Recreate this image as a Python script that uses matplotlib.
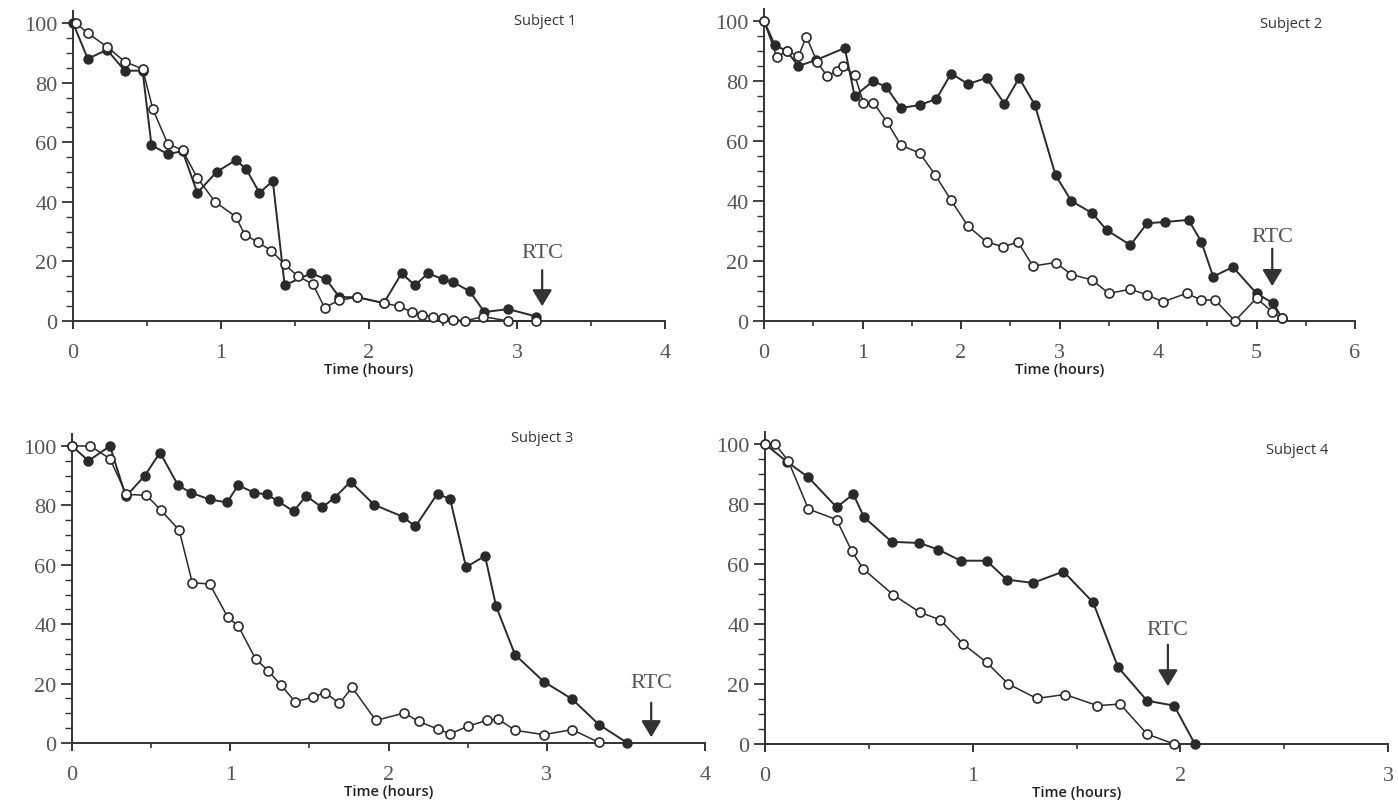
import matplotlib
matplotlib.use("Agg")
import matplotlib.pyplot as plt
from matplotlib.ticker import MultipleLocator

W, H = 1398, 812

# Subject 1
s1_filled_t = [0, 0.1, 0.23, 0.35, 0.47, 0.53, 0.64, 0.74, 0.84, 0.97, 1.1, 1.17, 1.26, 1.35,
               1.43, 1.61, 1.71, 1.8, 1.92, 2.1, 2.22, 2.31, 2.40, 2.50, 2.57, 2.68, 2.78, 2.94, 3.13]
s1_filled_y = [100, 88, 91, 84, 84, 59, 56, 57, 43, 50, 54, 51, 43, 47,
               12, 16, 14, 8, 8, 6, 16, 12, 16, 14, 13, 10, 3, 4, 1.5]
s1_open_t = [0.02, 0.1, 0.23, 0.35, 0.47, 0.54, 0.64, 0.74, 0.84, 0.96, 1.1, 1.16, 1.25, 1.34,
             1.43, 1.52, 1.62, 1.7, 1.8, 1.92, 2.1, 2.2, 2.29, 2.36, 2.43, 2.5, 2.57, 2.65,
             2.77, 2.94, 3.13]
s1_open_y = [100, 96.6, 92, 87, 84.6, 71, 59.5, 57.3, 48, 40, 35, 29, 26.4, 23.6,
             19, 15, 12.4, 4.5, 7, 8, 6, 5, 3, 2, 1.5, 1, 0.5, 0,
             1.5, 0, 0]

# Subject 2
s2_filled_t = [0, 0.11, 0.23, 0.35, 0.53, 0.82, 0.92, 1.11, 1.24, 1.39, 1.58, 1.75, 1.9, 2.07,
               2.26, 2.44, 2.59, 2.75, 2.96, 3.12, 3.33, 3.48, 3.72, 3.89, 4.07, 4.31, 4.44,
               4.56, 4.76, 5.0, 5.17, 5.26]
s2_filled_y = [100, 92, 90, 85, 87, 91, 75, 80, 78, 71, 72, 74, 82.5, 79,
               81, 72.5, 81, 72, 48.6, 40, 36, 30.3, 25.3, 32.6, 33, 33.7, 26.4,
               14.8, 18, 9.2, 5.9, 0.9]
s2_open_t = [0, 0.13, 0.23, 0.35, 0.43, 0.54, 0.64, 0.74, 0.8, 0.92, 1.01, 1.11, 1.25, 1.39,
             1.58, 1.74, 1.9, 2.07, 2.26, 2.43, 2.58, 2.73, 2.96, 3.12, 3.33, 3.5, 3.72,
             3.89, 4.05, 4.29, 4.44, 4.58, 4.78, 5.0, 5.16, 5.26]
s2_open_y = [100, 88, 90, 88.3, 94.8, 86.3, 81.7, 83.3, 85, 82, 72.8, 72.8, 66.3, 58.6,
             56, 48.6, 40.2, 31.7, 26.3, 24.8, 26.3, 18.3, 19.5, 15.5, 13.7, 9.2, 10.6,
             8.7, 6.4, 9.2, 7, 7, 0, 7.6, 3.1, 0.9]

# Subject 3
s3_filled_t = [0, 0.104, 0.24, 0.34, 0.46, 0.556, 0.67, 0.75, 0.87, 0.98, 1.05, 1.15, 1.23, 1.3,
               1.4, 1.48, 1.58, 1.66, 1.76, 1.91, 2.09, 2.17, 2.31, 2.39, 2.49, 2.61, 2.68,
               2.80, 2.98, 3.16, 3.33, 3.51]
s3_filled_y = [100, 95, 100, 83, 90, 97.8, 86.8, 84.3, 82, 81, 86.8, 84.3, 83.7, 81.5,
               78, 83.2, 79.3, 82.6, 88, 80.2, 76.2, 72.9, 84, 82, 59.2, 63, 46,
               29.7, 20.7, 14.8, 6.2, 0]
s3_open_t = [0, 0.115, 0.24, 0.344, 0.47, 0.56, 0.677, 0.76, 0.87, 0.985, 1.05, 1.16, 1.24,
             1.32, 1.41, 1.52, 1.6, 1.69, 1.77, 1.92, 2.1, 2.19, 2.31, 2.39, 2.5, 2.62, 2.69,
             2.8, 2.98, 3.16, 3.33]
s3_open_y = [100, 100, 95.7, 83.7, 83.4, 78.5, 71.7, 54, 53.5, 42.3, 39.5, 28.3, 24.3,
             19.5, 13.9, 15.4, 17, 13.3, 18.7, 7.6, 10.1, 7.3, 4.7, 3.1, 5.6, 7.6, 8.1,
             4.3, 2.8, 4.5, 0.2]

# Subject 4
s4_filled_t = [0, 0.107, 0.209, 0.345, 0.425, 0.477, 0.61, 0.743, 0.835, 0.942, 1.067, 1.164,
               1.29, 1.437, 1.58, 1.70, 1.84, 1.97, 2.07]
s4_filled_y = [100, 94, 88.9, 78.9, 83.3, 75.6, 67.4, 67, 64.8, 61.1, 61.1, 54.8,
               53.7, 57.5, 47.2, 25.6, 14.4, 12.8, 0]
s4_open_t = [0, 0.048, 0.112, 0.209, 0.345, 0.417, 0.474, 0.618, 0.746, 0.843, 0.955, 1.067,
             1.172, 1.308, 1.445, 1.6, 1.71, 1.84, 1.97]
s4_open_y = [100, 100, 94.4, 78.3, 74.8, 64.4, 58.3, 49.7, 43.9, 41.4, 33.3, 27.2,
             20, 15.2, 16.5, 12.8, 13.3, 3.3, 0]

subjects = ["Subject 1", "Subject 2", "Subject 3", "Subject 4"]
x_max = [4, 6, 4, 3]
# RTC arrow: time, tip value, tail value, text value
rtc_t = [3.17, 5.16, 3.66, 1.94]
rtc_tip = [4, 10.7, 1.0, 18.3]
rtc_tail = [18, 25, 14.5, 34]
rtc_text_y = [23, 28.3, 20.5, 38.3]
title_pos = [(3.19, 101), (5.35, 99), (2.97, 102.7), (2.56, 98.3)]

series = [
    (s1_filled_t, s1_filled_y, s1_open_t, s1_open_y),
    (s2_filled_t, s2_filled_y, s2_open_t, s2_open_y),
    (s3_filled_t, s3_filled_y, s3_open_t, s3_open_y),
    (s4_filled_t, s4_filled_y, s4_open_t, s4_open_y),
]

# axes frames in pixels: x of t=0, x of t=max, y of 0, y of 100
frames = [(73, 665, 322, 24), (764, 1355, 322, 22), (72, 705, 744, 447), (765, 1388, 745, 445)]

serif = "Liberation Serif"
sans = "Open Sans"
ink = "#2a2a2a"

fig = plt.figure(figsize=(W / 100, H / 100), dpi=100)

for i in range(4):
    x0, x1, y0, y100 = frames[i]
    top = y0 - 1.04 * (y0 - y100)
    ax = fig.add_axes([x0 / W, (H - y0) / H, (x1 - x0) / W, (y0 - top) / H])
    ft, fy, ot, oy = series[i]
    ax.plot(ft, fy, "-o", color=ink, lw=1.4, ms=6.5, mfc=ink, mec=ink,
            clip_on=False, zorder=3)
    ax.plot(ot, oy, "-o", color=ink, lw=1.1, ms=6.5, mfc="white", mec=ink,
            mew=1.2, clip_on=False, zorder=4)

    ax.set_xlim(0, x_max[i])
    ax.set_ylim(0, 104)
    for s in ["top", "right"]:
        ax.spines[s].set_visible(False)
    for s in ["left", "bottom"]:
        ax.spines[s].set_color("#333333")
        ax.spines[s].set_linewidth(1.4)

    ax.xaxis.set_major_locator(MultipleLocator(1))
    ax.xaxis.set_minor_locator(MultipleLocator(0.5))
    ax.yaxis.set_major_locator(MultipleLocator(20))
    ax.yaxis.set_minor_locator(MultipleLocator(5))
    ax.tick_params(axis="x", which="major", direction="out", length=6, width=1.4,
                   pad=10, labelsize=16, labelcolor="#555555", color="#333333")
    ax.tick_params(axis="x", which="minor", direction="out", length=3.5, width=1.2, color="#333333")
    ax.tick_params(axis="y", which="major", direction="out", length=8, width=1.3,
                   pad=3, labelsize=16, labelcolor="#555555", color="#333333")
    ax.tick_params(axis="y", which="minor", direction="out", length=5, width=1.0, color="#333333")
    for lab in ax.get_xticklabels() + ax.get_yticklabels():
        lab.set_fontfamily(serif)

    ax.set_xlabel("Time (hours)", fontfamily=sans, fontsize=10.5, fontweight="semibold",
                  color="#222222", labelpad=0)

    tx, ty = title_pos[i]
    ax.text(tx, ty, subjects[i], fontfamily=sans, fontsize=10.5, fontweight="medium",
            color="#333333", ha="center", va="center")

    ax.annotate("", xy=(rtc_t[i], rtc_tip[i]), xytext=(rtc_t[i], rtc_tail[i]),
                arrowprops=dict(arrowstyle="-|>,head_length=1.0,head_width=0.6",
                                color="#333333", lw=1.6))
    ax.text(rtc_t[i], rtc_text_y[i], "RTC", fontfamily=serif, fontsize=16,
            color="#555555", ha="center", va="center")

fig.savefig("out.png", dpi=100)
